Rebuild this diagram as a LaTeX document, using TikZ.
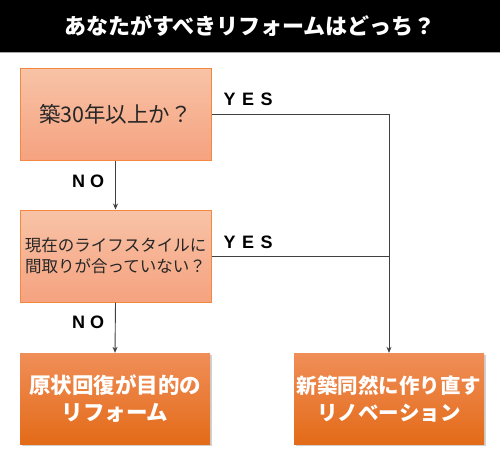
\documentclass[tikz,border=0pt]{standalone}
\usepackage{fontspec}
\setmainfont{Liberation Sans}
\newfontfamily\cjk{Noto Sans CJK JP}
\usetikzlibrary{arrows.meta}
\definecolor{qtop}{HTML}{F8C3A7}
\definecolor{qbot}{HTML}{F5A27F}
\definecolor{qedge}{HTML}{F4883E}
\definecolor{atop}{HTML}{F08E58}
\definecolor{abot}{HTML}{E36B18}
\definecolor{conn}{HTML}{404040}
\tikzset{
  qbox/.style={draw=qedge, line width=1pt, top color=qtop, bottom color=qbot,
    minimum width=191pt, minimum height=92pt, inner sep=0pt, align=center, text=black!85},
  abox/.style={top color=atop, bottom color=abot, minimum width=190pt, minimum height=91pt,
    inner sep=0pt, align=center, text=white},
  shadowbox/.style={fill=black, opacity=0.18, minimum width=190pt, minimum height=91pt, inner sep=0pt},
  conline/.style={draw=conn, line width=0.9pt},
  arr/.style={conline, -{Stealth[length=6pt,width=5pt]}},
  lab/.style={font=\fontsize{18}{18}\selectfont\bfseries, text=black, inner sep=0pt}
}
\begin{document}
\begin{tikzpicture}[x=1pt,y=-1pt]
\useasboundingbox (0,0) rectangle (500,451);
\fill[white] (0,0) rectangle (500,451);
\fill[black] (0,0) rectangle (500,52);
\draw[gray!70, line width=1pt] (0,52.5) -- (500,52.5);
\node[text=white, font=\cjk\bfseries\fontsize{22}{22}\selectfont] (title) at (250,26) {あなたがすべきリフォームはどっち？};

\node[qbox, font=\cjk\fontsize{21.5}{21.5}\selectfont] (q1) at (115.5,114) {築30年以上か？};
\node[qbox, font=\cjk\fontsize{16.5}{21}\selectfont] (q2) at (115.5,256) {現在のライフスタイルに\\間取りが合っていない？};

\node[shadowbox] (s1) at (117,400.5) {};
\node[shadowbox] (s2) at (391,400.5) {};
\node[abox, font=\cjk\bfseries\fontsize{21.5}{27}\selectfont] (a1) at (115,398.5) {原状回復が目的の\\リフォーム};
\node[abox, font=\cjk\bfseries\fontsize{20.5}{27}\selectfont] (a2) at (389,398.5) {新築同然に作り直す\\リノベーション};

\draw[arr] (q1.south) -- (q2.north);
\draw[arr] (q2.south) -- (a1.north);
\draw[arr] (q1.east) -| (a2.north);
\coordinate (j2) at (q2.east -| a2.north);
\draw[conline] (q2.east) -- (j2);

\node[lab, anchor=west] (y1) at (223.5,99) {Y\hspace{6.5pt}E\hspace{6.5pt}S};
\node[lab, anchor=west] (y2) at (223.5,242) {Y\hspace{6.5pt}E\hspace{6.5pt}S};
\node[lab, anchor=west] (n1) at (72,181) {N\hspace{5pt}O};
\node[lab, anchor=west] (n2) at (72,322) {N\hspace{5pt}O};
\end{tikzpicture}
\end{document}
